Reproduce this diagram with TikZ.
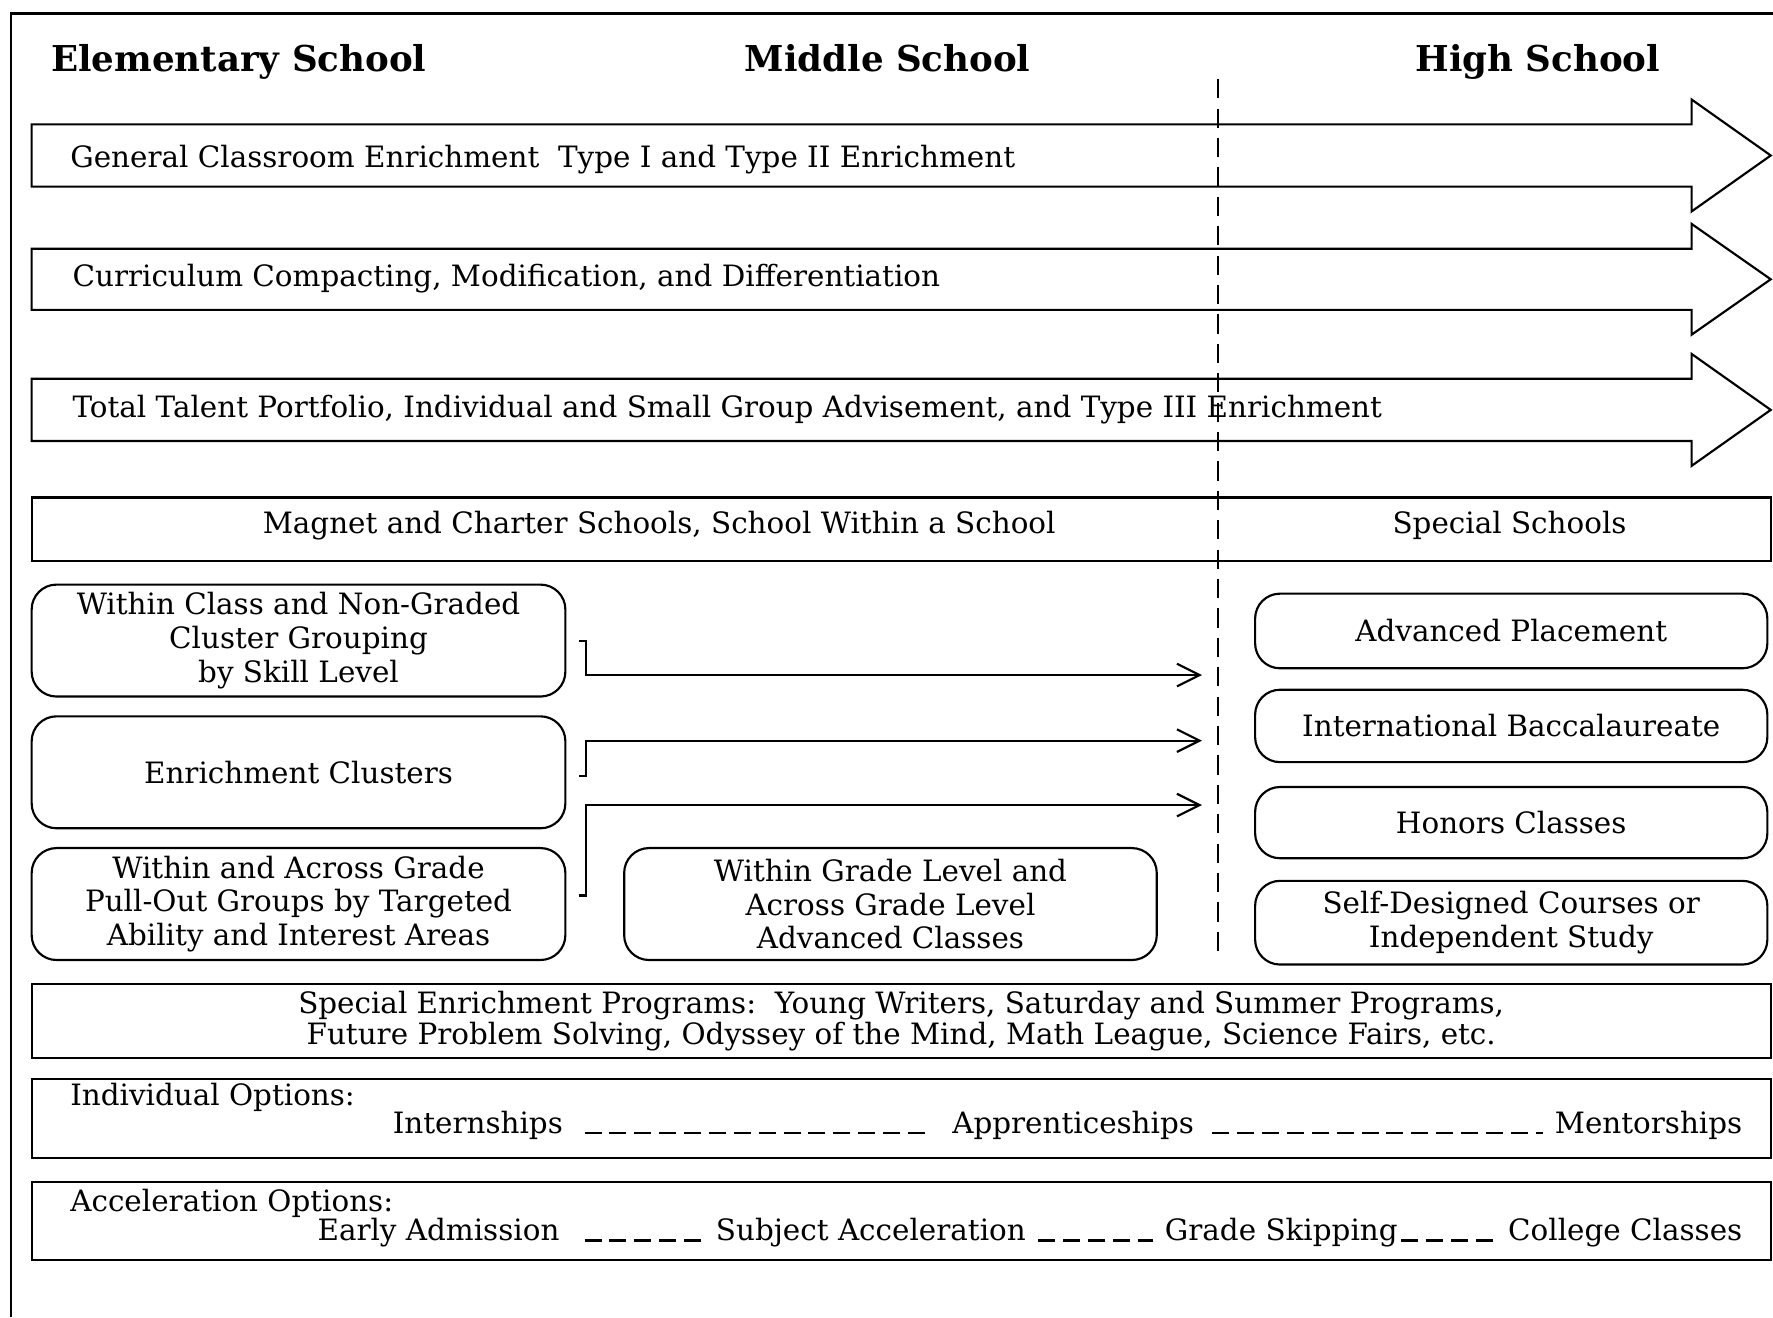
\documentclass[tikz,border=0pt]{standalone}
\usepackage{fontspec}
\setmainfont{DejaVu Serif}
\usetikzlibrary{arrows.meta}
\begin{document}
\begin{tikzpicture}[x=1pt,y=-1pt,
  every node/.style={inner sep=0pt, font=\fontsize{26}{30}\selectfont},
  frame/.style={line width=1.9pt},
  box/.style={draw, line width=1.9pt, align=center},
  rbox/.style={box, rounded corners=22pt},
  bigarrow/.style={draw, line width=1.9pt, line join=miter},
  conn/.style={draw, line width=1.9pt, -{Straight Barb[length=20pt,width=20pt]}},
  optdash/.style={line width=1.9pt, dash pattern=on 15pt off 7pt},
  divider/.style={line width=1.9pt, dash pattern=on 17pt off 9pt},
  head/.style={font=\bfseries\fontsize{31.5}{35}\selectfont}]

% page
\fill[white] (0,0) rectangle (1568,1165);
\useasboundingbox (0,0) rectangle (1568,1165);
\draw[frame] (10,1165) -- (10,12) -- (1568,12);

% column headings
\node[head, anchor=base west] (elem) at (45,63) {Elementary School};
\node[head, anchor=base] (mid) at (785,63) {Middle School};
\node[head, anchor=base] (high) at (1360,63) {High School};

% three long arrows running through all levels
\foreach \t/\b in {110/165,220/274,335/390}{
  \draw[bigarrow] (28,\t) -- (1496,\t) -- (1496,\t-22) -- (1566,{(\t+\b)/2})
    -- (1496,\b+22) -- (1496,\b) -- (28,\b) -- cycle;
}
\node[anchor=base west] (gce) at (62,148) {General Classroom Enrichment\ \ Type I and Type II Enrichment};
\node[anchor=base west] (ccm) at (64,253) {Curriculum Compacting, Modification, and Differentiation};
\node[anchor=base west] (ttp) at (64,369) {Total Talent Portfolio, Individual and Small Group Advisement, and Type III Enrichment};

% schools band
\node[box, minimum width=1538pt, minimum height=56pt] (magnet) at (797,468) {};
\node[anchor=base] (mcs) at (583,472) {Magnet and Charter Schools, School Within a School};
\node[anchor=base] (sps) at (1335,472) {Special Schools};

% elementary / middle grouping options
\node[rbox, minimum width=472pt, minimum height=99pt] (wcl) at (264,566.5) {Within Class and Non-Graded\\Cluster Grouping\\by Skill Level};
\node[rbox, minimum width=472pt, minimum height=99pt] (ecl) at (264,683) {Enrichment Clusters};
\node[rbox, minimum width=472pt, minimum height=99pt] (wag) at (264,799.5) {Within and Across Grade\\Pull-Out Groups by Targeted\\Ability and Interest Areas};
\node[rbox, minimum width=471pt, minimum height=99pt] (wgl) at (787.5,799.5) {Within Grade Level and\\Across Grade Level\\Advanced Classes};

% high school options
\node[rbox, minimum width=453pt, minimum height=66pt] (ap) at (1336.5,558) {Advanced Placement};
\node[rbox, minimum width=453pt, minimum height=64pt] (ib) at (1336.5,642) {International Baccalaureate};
\node[rbox, minimum width=453pt, minimum height=63pt] (hc) at (1336.5,727.5) {Honors Classes};
\node[rbox, minimum width=453pt, minimum height=74pt] (sdc) at (1336.5,816) {Self-Designed Courses or\\Independent Study};

% level boundary
\draw[divider] (1077,70) -- (1077,845);

% bracket connectors towards high school
\coordinate (tipA) at (1063,597);
\coordinate (tipB) at (1063,655);
\coordinate (tipC) at (1063,712);
\draw[conn] ([xshift=11pt]wcl.east) -- ++(6,0) |- (tipA);
\draw[conn] ([xshift=11pt,yshift=-3pt]ecl.east) -- ++(6,0) |- (tipB);
\draw[conn] ([xshift=11pt,yshift=7.5pt]wag.east) -- ++(6,0) |- (tipC);

% special programs
\node[box, minimum width=1538pt, minimum height=66pt, font=\fontsize{26}{27}\selectfont] (sep) at (797,903)
  {Special Enrichment Programs:\ \ Young Writers, Saturday and Summer Programs,\\Future Problem Solving, Odyssey of the Mind, Math League, Science Fairs, etc.};

% individual options
\node[box, minimum width=1538pt, minimum height=70pt] (indiv) at (797,989) {};
\node[anchor=base west] (iolab) at (62,978) {Individual Options:};
\node[anchor=base east] (intern) at (498,1002) {Internships};
\node[anchor=base west] (appr) at (842,1002) {Apprenticeships};
\node[anchor=base east] (mentor) at (1541,1002) {Mentorships};
\draw[optdash] ([xshift=19pt]intern.base east) -- ([xshift=-19pt]appr.base west);
\draw[optdash] ([xshift=16pt]appr.base east) -- ([xshift=-10pt]mentor.base west);

% acceleration options
\node[box, minimum width=1538pt, minimum height=69pt] (accel) at (797,1079.5) {};
\node[anchor=base west] (aclab) at (62,1071) {Acceleration Options:};
\node[anchor=base east] (early) at (495,1097) {Early Admission};
\node[anchor=base west] (subj) at (633,1097) {Subject Acceleration};
\node[anchor=base west] (grade) at (1030,1097) {Grade Skipping};
\node[anchor=base east] (college) at (1541,1097) {College Classes};
\draw[optdash] ([xshift=22pt]early.base east) -- ([xshift=-8pt]subj.base west);
\draw[optdash] ([xshift=11pt]subj.base east) -- ([xshift=-10pt]grade.base west);
\draw[optdash] ([xshift=3pt]grade.base east) -- ([xshift=-10pt]college.base west);
\end{tikzpicture}
\end{document}
